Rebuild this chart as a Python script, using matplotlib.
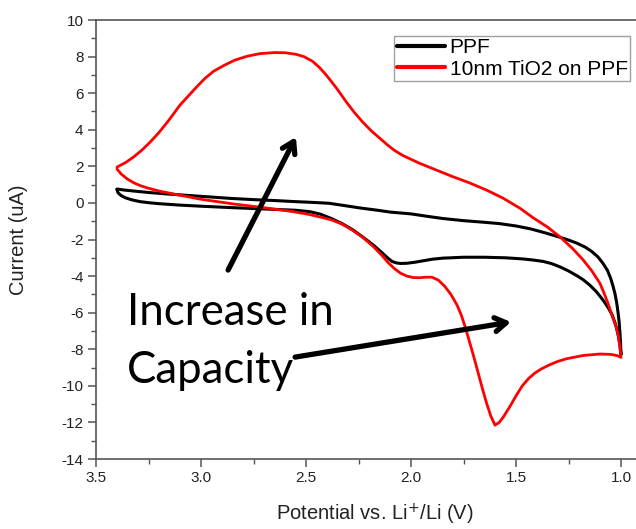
import matplotlib
matplotlib.use("Agg")
import matplotlib.pyplot as plt
from matplotlib.ticker import MultipleLocator, FormatStrFormatter

plt.rcParams['axes.unicode_minus'] = False
plt.rcParams['font.family'] = ['Liberation Sans', 'DejaVu Sans']

# PPF (black): cathodic sweep 3.4 -> 1.0, then anodic 1.0 -> 3.4
ppf_v = [3.40, 3.395, 3.38, 3.36, 3.33, 3.29, 3.24, 3.19, 3.10, 3.00, 2.85, 2.70, 2.55, 2.48, 2.43,
         2.38, 2.33, 2.28, 2.23, 2.18, 2.14, 2.11, 2.09, 2.07, 2.05, 2.02, 1.98, 1.94, 1.90, 1.85,
         1.75, 1.65, 1.55, 1.47, 1.42, 1.37, 1.33, 1.29, 1.25, 1.21, 1.18, 1.15, 1.12, 1.10, 1.08,
         1.06, 1.043, 1.03, 1.02, 1.012, 1.005, 1.00,
         1.002, 1.005, 1.009, 1.014, 1.02, 1.028, 1.038, 1.05, 1.065, 1.086, 1.11, 1.14, 1.17,
         1.21, 1.25, 1.29, 1.36, 1.43, 1.50, 1.58, 1.66, 1.75, 1.85, 1.93, 2.00, 2.05, 2.10, 2.16,
         2.24, 2.32, 2.39, 2.47, 2.55, 2.65, 2.75, 2.85, 3.00, 3.15, 3.25, 3.32, 3.37, 3.40]
ppf_i = [0.72, 0.55, 0.40, 0.28, 0.17, 0.07, 0.00, -0.05, -0.12, -0.18, -0.26, -0.33, -0.40, -0.48, -0.62,
         -0.85, -1.12, -1.45, -1.86, -2.30, -2.70, -3.02, -3.20, -3.28, -3.31, -3.30, -3.24, -3.16, -3.08, -3.02,
         -2.97, -2.97, -3.00, -3.06, -3.12, -3.20, -3.32, -3.50, -3.72, -3.98, -4.20, -4.48, -4.82, -5.10, -5.40,
         -5.75, -6.10, -6.50, -6.90, -7.30, -7.80, -8.30,
         -7.70, -7.10, -6.50, -6.00, -5.50, -5.00, -4.55, -4.10, -3.68, -3.30, -2.95, -2.65, -2.42,
         -2.20, -2.03, -1.88, -1.64, -1.42, -1.26, -1.13, -1.05, -0.97, -0.85, -0.72, -0.60, -0.55, -0.50, -0.40,
         -0.28, -0.14, -0.02, 0.03, 0.07, 0.13, 0.18, 0.24, 0.36, 0.48, 0.57, 0.65, 0.71, 0.76]

# 10nm TiO2 on PPF (red)
tio2_v = [3.40, 3.38, 3.35, 3.32, 3.29, 3.25, 3.20, 3.10, 3.00, 2.85, 2.70, 2.56, 2.48, 2.43, 2.38,
          2.33, 2.28, 2.23, 2.18, 2.14, 2.11, 2.08, 2.05, 2.02, 1.99, 1.96, 1.93, 1.90, 1.87, 1.84,
          1.81, 1.78, 1.76, 1.74, 1.72, 1.70, 1.68, 1.66, 1.64, 1.62, 1.60, 1.58, 1.56, 1.53, 1.50,
          1.47, 1.44, 1.41, 1.38, 1.34, 1.30, 1.26, 1.18, 1.10, 1.05, 1.02, 1.00,
          1.005, 1.012, 1.022, 1.038, 1.06, 1.08, 1.10, 1.14, 1.18, 1.23, 1.29, 1.35, 1.42, 1.48,
          1.56, 1.64, 1.72, 1.80, 1.88, 1.96, 2.04, 2.08, 2.11, 2.15, 2.19, 2.23, 2.27, 2.31, 2.35,
          2.38, 2.41, 2.44, 2.47, 2.51, 2.55, 2.60, 2.65, 2.72, 2.78, 2.84, 2.89, 2.94, 2.98, 3.02,
          3.06, 3.10, 3.13, 3.16, 3.20, 3.24, 3.28, 3.32, 3.36, 3.40]
tio2_i = [1.85, 1.58, 1.30, 1.10, 0.95, 0.80, 0.65, 0.42, 0.20, -0.05, -0.26, -0.48, -0.64, -0.78, -0.92,
          -1.15, -1.48, -1.88, -2.38, -2.85, -3.25, -3.58, -3.84, -4.00, -4.08, -4.09, -4.06, -4.06, -4.22, -4.55,
          -5.00, -5.60, -6.15, -6.85, -7.65, -8.45, -9.30, -10.15, -10.95, -11.65, -12.15, -12.00, -11.70, -11.15, -10.55,
          -10.00, -9.60, -9.30, -9.08, -8.85, -8.66, -8.52, -8.34, -8.26, -8.28, -8.34, -8.45,
          -7.90, -7.30, -6.80, -6.30, -5.55, -4.95, -4.40, -3.70, -3.12, -2.50, -1.86, -1.32, -0.80, -0.30,
          0.25, 0.70, 1.09, 1.43, 1.80, 2.17, 2.60, 2.88, 3.15, 3.55, 3.95, 4.42, 4.95, 5.55, 6.20,
          6.65, 7.08, 7.45, 7.75, 8.00, 8.13, 8.21, 8.22, 8.16, 8.02, 7.80, 7.52, 7.20, 6.82, 6.35,
          5.85, 5.35, 4.88, 4.42, 3.85, 3.35, 2.90, 2.52, 2.20, 1.96]

series_labels = ["PPF", "10nm TiO2 on PPF"]
x_ticks = [3.5, 3.0, 2.5, 2.0, 1.5, 1.0]
annot_lines = ["Increase in", "Capacity"]

fig = plt.figure(figsize=(6.36, 5.29), dpi=100)
ax = fig.add_axes([96/636, 70/529, 546/636, 439/529])

ax.plot(ppf_v, ppf_i, color='black', lw=2.2, label=series_labels[0],
        solid_joinstyle='round', solid_capstyle='round')
ax.plot(tio2_v, tio2_i, color='#ff0000', lw=2.0, label=series_labels[1],
        solid_joinstyle='round', solid_capstyle='round')

ax.set_xlim(3.5, 0.9)
ax.set_ylim(-14, 10)
ax.set_xticks(x_ticks)
ax.xaxis.set_major_formatter(FormatStrFormatter('%.1f'))
ax.xaxis.set_minor_locator(MultipleLocator(0.25))
ax.yaxis.set_major_locator(MultipleLocator(2))
ax.yaxis.set_minor_locator(MultipleLocator(1))
ax.yaxis.set_major_formatter(FormatStrFormatter('%d'))

spine_c = '#555555'
for s in ['left', 'bottom', 'top', 'right']:
    ax.spines[s].set_color(spine_c)
    ax.spines[s].set_linewidth(1.2)
ax.tick_params(which='major', direction='out', length=6, width=1.1, color=spine_c,
               labelsize=11, labelcolor='#222222', pad=3)
ax.tick_params(which='minor', direction='out', length=3.5, width=1.0, color=spine_c)
ax.tick_params(top=False, right=False, which='both')

ax.set_xlabel("Potential vs. Li$^{+}$/Li (V)", fontsize=14.5, color='#222222')
ax.set_ylabel("Current (uA)", fontsize=14.5, color='#222222')
ax.xaxis.set_label_coords((375 - 96) / 546, -(502 - 459) / 439)
ax.yaxis.set_label_coords(-(96 - 28) / 546, 0.5)

leg = ax.legend(loc='upper left', bbox_to_anchor=((394 - 96) / 546, (459 - 36) / 439),
                fontsize=15, frameon=True, fancybox=False, borderpad=0.12,
                handlelength=2.35, handletextpad=0.2, labelspacing=0.1, borderaxespad=0)
leg.get_frame().set_edgecolor('#888888')
leg.get_frame().set_linewidth(1.0)
for line in leg.get_lines():
    line.set_linewidth(3)

ax.text(3.352, -6.68, annot_lines[0], fontsize=31.5, family=['Lato', 'DejaVu Sans'],
        ha='left', va='baseline', color='black')
ax.text(3.352, -9.85, annot_lines[1], fontsize=31.5, family=['Lato', 'DejaVu Sans'],
        ha='left', va='baseline', color='black')

arrow_kw = dict(arrowstyle='->,head_length=0.8,head_width=0.5', color='black', lw=3.8,
                shrinkA=0, shrinkB=0)
ax.annotate('', xy=(2.548, 3.6), xytext=(2.871, -3.67), arrowprops=arrow_kw)
ax.annotate('', xy=(1.524, -6.51), xytext=(2.552, -8.43), arrowprops=arrow_kw)

fig.savefig('out.png', dpi=100)
